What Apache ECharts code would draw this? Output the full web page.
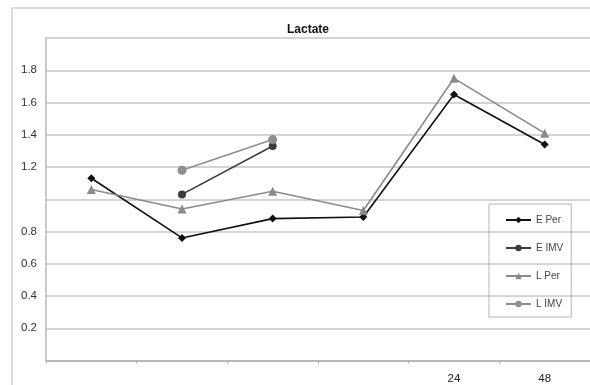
<!DOCTYPE html>
<html>
<head>
<meta charset="utf-8">
<script src="https://cdn.jsdelivr.net/npm/echarts@6/dist/echarts.min.js"></script>
<style>html,body{margin:0;padding:0;background:#fff}#c{width:590px;height:385px}</style>
</head>
<body>
<div id="c"></div>
<script>
const categories = ['', '', '', '', '24', '48'];
const ePer = [1.13, 0.76, 0.88, 0.89, 1.65, 1.34];
const eImv = [null, 1.03, 1.33, null, null, null];
const lPer = [1.06, 0.94, 1.05, 0.93, 1.75, 1.41];
const lImv = [null, 1.18, 1.37, null, null, null];
const yTickLabels = ['0.2', '0.4', '0.6', '0.8', '1.2', '1.4', '1.6', '1.8'];

const chart = echarts.init(document.getElementById('c'), null, {renderer: 'canvas'});
const font = 'Liberation Sans, Arial, sans-serif';
function mk(name, data, color, symbol, size, width) {
  return {
    name: name, type: 'line', data: data, symbol: symbol, symbolSize: size,
    connectNulls: false,
    lineStyle: {color: color, width: width},
    itemStyle: {color: color},
    emphasis: {disabled: true}
  };
}
chart.setOption({
  animation: false,
  textStyle: {fontFamily: font},
  graphic: [{
    type: 'rect', shape: {x: 12, y: 8, width: 600, height: 400},
    style: {fill: 'none', stroke: '#cfcfcf', lineWidth: 1.5}, silent: true, z: -1
  }],
  title: {
    text: 'Lactate', left: 282, top: 19,
    textStyle: {fontSize: 12, fontWeight: 'bold', color: '#111', fontFamily: font}
  },
  grid: {left: 46, top: 38, width: 548, height: 322.5},
  xAxis: {
    type: 'category', data: categories, boundaryGap: true,
    axisLine: {show: true, lineStyle: {color: '#b0b0b0', width: 1.5}},
    axisTick: {show: true, length: 3, lineStyle: {color: '#b0b0b0'}},
    axisLabel: {color: '#222', fontSize: 11.5, margin: 12, fontFamily: font},
    splitLine: {show: false}
  },
  yAxis: {
    type: 'value', min: 0, max: 2, interval: 0.2,
    axisLine: {show: true, lineStyle: {color: '#b8b8b8', width: 1.5}},
    axisTick: {show: false},
    axisLabel: {
      color: '#333', fontSize: 11.5, margin: 9, fontFamily: font,
      formatter: function (v) {
        const s = v.toFixed(1);
        return yTickLabels.indexOf(s) >= 0 ? s : '';
      }
    },
    splitLine: {lineStyle: {color: '#c6c6c6', width: 1.5}}
  },
  legend: {
    orient: 'vertical', left: 489, top: 204,
    padding: [11, 8, 8, 16], itemGap: 18, itemWidth: 25, itemHeight: 8,
    borderColor: '#b5b5b5', borderWidth: 1,
    textStyle: {fontSize: 10, color: '#444', fontFamily: font},
    data: ['E Per', 'E IMV', 'L Per', 'L IMV']
  },
  series: [
    mk('E Per', ePer, '#111111', 'diamond', 8, 1.6),
    mk('E IMV', eImv, '#3c3c3c', 'circle', 8, 1.6),
    mk('L Per', lPer, '#8a8a8a', 'triangle', 9, 1.6),
    mk('L IMV', lImv, '#8e8e8e', 'circle', 9, 1.6)
  ]
});
</script>
</body>
</html>
